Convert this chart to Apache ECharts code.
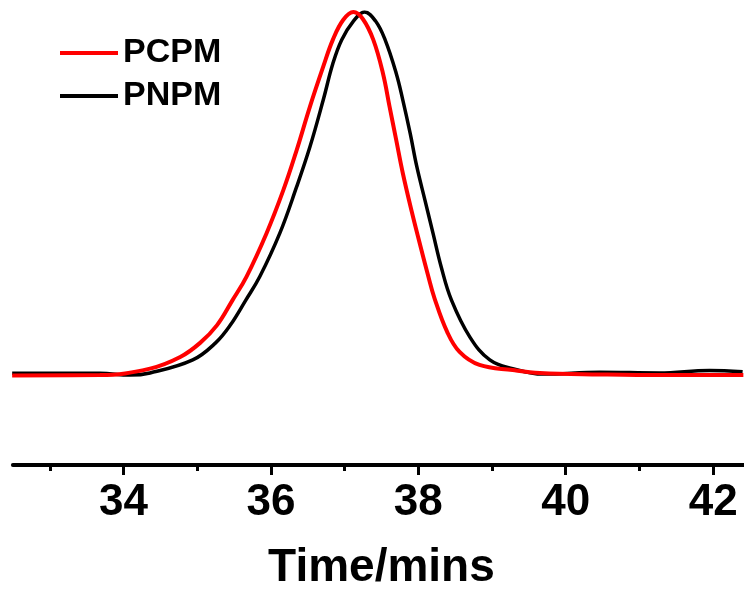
<!DOCTYPE html>
<html>
<head>
<meta charset="utf-8">
<script src="https://cdn.jsdelivr.net/npm/echarts@6/dist/echarts.min.js"></script>
<style>
  html, body { margin: 0; padding: 0; background: #fff; }
  #main { width: 744px; height: 596px; }
</style>
</head>
<body>
<div id="main"></div>
<script>
// elution time (mins) and normalised signal
const pcpmTime = [32.49, 33.68, 34.36, 34.77, 35.04, 35.27, 35.48, 35.67, 35.94, 36.17, 36.35, 36.53, 36.71, 36.84, 36.98, 37.12,
    37.25, 37.39, 37.52, 37.61, 37.70, 37.79, 37.91, 38.02, 38.13, 38.22, 38.39, 38.56, 38.83, 39.28, 39.65, 40.46, 41.3, 42.41];
const pcpmSignal = [-0.003, -0.002, 0.016, 0.048, 0.087, 0.136, 0.205, 0.270, 0.389, 0.509, 0.619, 0.739, 0.849, 0.923, 0.978, 1.0,
    0.98, 0.923, 0.831, 0.739, 0.647, 0.555, 0.45, 0.361, 0.275, 0.21, 0.118, 0.062, 0.026, 0.012, 0.004, 0.0, -0.002, -0.002];

const pnpmTime = [32.49, 33.68, 34.09, 34.36, 34.94, 35.25, 35.45, 35.66, 35.85, 36.12, 36.35, 36.53, 36.71, 36.84, 36.96, 37.12,
    37.27, 37.42, 37.55, 37.70, 37.79, 37.89, 37.98, 38.09, 38.20, 38.31, 38.45, 38.70, 38.97, 39.28, 39.69, 40.46, 41.27, 41.95, 42.40];
const pnpmSignal = [0.003, 0.003, -0.002, 0.004, 0.040, 0.087, 0.136, 0.205, 0.270, 0.389, 0.518, 0.628, 0.757, 0.857, 0.923, 0.975,
    1.0, 0.975, 0.923, 0.831, 0.757, 0.665, 0.573, 0.481, 0.389, 0.297, 0.205, 0.103, 0.040, 0.016, 0.001, 0.006, 0.004, 0.011, 0.007];

const majorTicks = [34, 36, 38, 40, 42];
const minorTicks = [33, 35, 37, 39, 41];

const seriesNames = ['PCPM', 'PNPM'];

const font = '"Liberation Sans", Arial, sans-serif';

function pairs(xs, ys) {
    return xs.map((x, i) => [x, ys[i]]);
}

const chart = echarts.init(document.getElementById('main'));

chart.setOption({
    animation: false,
    backgroundColor: '#fff',
    grid: { left: 12.9, right: -6, top: 12, bottom: 131, containLabel: false, outerBoundsMode: 'none' },
    legend: {
        data: seriesNames,
        orient: 'vertical',
        left: 60,
        top: 35,
        padding: 0,
        icon: 'rect',
        itemWidth: 58,
        itemHeight: 4,
        itemGap: 7,
        textStyle: { fontFamily: font, fontWeight: 'bold', fontSize: 34, lineHeight: 36, color: '#000' }
    },
    xAxis: [
        {
            type: 'value',
            min: 32.5,
            max: 42.5,
            position: 'bottom',
            name: 'Time/mins',
            nameLocation: 'middle',
            nameGap: 80,
            nameTextStyle: { fontFamily: font, fontWeight: 'bold', fontSize: 46, color: '#000' },
            axisLine: { show: true, onZero: false, lineStyle: { color: '#000', width: 4 } },
            axisTick: { show: true, customValues: majorTicks, length: 10, lineStyle: { color: '#000', width: 3 } },
            axisLabel: { customValues: majorTicks, margin: 16, fontFamily: font, fontWeight: 'bold', fontSize: 44, color: '#000' },
            splitLine: { show: false }
        },
        {
            type: 'value',
            min: 32.5,
            max: 42.5,
            position: 'bottom',
            axisLine: { show: false, onZero: false },
            axisTick: { show: true, customValues: minorTicks, length: 6, lineStyle: { color: '#000', width: 3 } },
            axisLabel: { show: false },
            splitLine: { show: false }
        }
    ],
    yAxis: { type: 'value', min: -0.25, max: 1.0, show: false },
    series: [
        {
            name: 'PNPM',
            type: 'line',
            data: pairs(pnpmTime, pnpmSignal),
            showSymbol: false,
            smooth: 0.4,
            lineStyle: { color: '#000', width: 3.5 },
            itemStyle: { color: '#000' }
        },
        {
            name: 'PCPM',
            type: 'line',
            data: pairs(pcpmTime, pcpmSignal),
            showSymbol: false,
            smooth: 0.4,
            lineStyle: { color: '#ff0000', width: 4 },
            itemStyle: { color: '#ff0000' }
        }
    ]
});
</script>
</body>
</html>
